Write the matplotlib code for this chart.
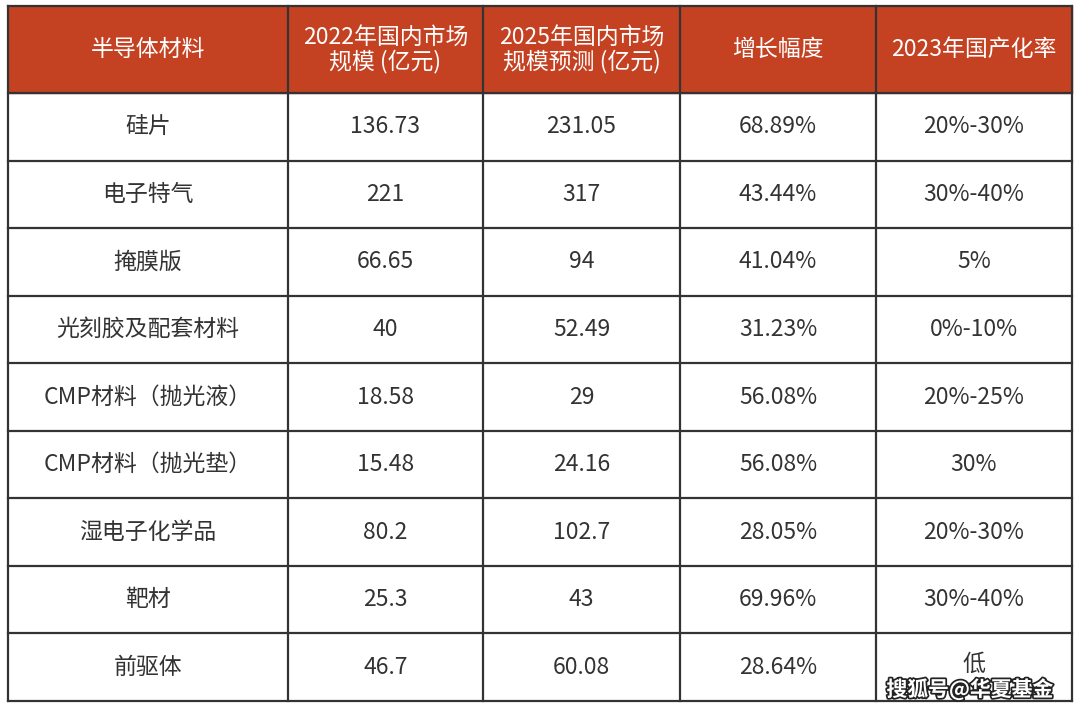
import matplotlib.pyplot as plt
import matplotlib.patheffects as pe

plt.rcParams['font.family'] = ['Noto Sans CJK SC', 'DejaVu Sans']

headers = ["半导体材料", "2022年国内市场\n规模 (亿元)", "2025年国内市场\n规模预测 (亿元)", "增长幅度", "2023年国产化率"]
materials = ["硅片", "电子特气", "掩膜版", "光刻胶及配套材料", "CMP材料（抛光液）",
             "CMP材料（抛光垫）", "湿电子化学品", "靶材", "前驱体"]
size_2022 = ["136.73", "221", "66.65", "40", "18.58", "15.48", "80.2", "25.3", "46.7"]
size_2025 = ["231.05", "317", "94", "52.49", "29", "24.16", "102.7", "43", "60.08"]
growth = ["68.89%", "43.44%", "41.04%", "31.23%", "56.08%", "56.08%", "28.05%", "69.96%", "28.64%"]
localization = ["20%-30%", "30%-40%", "5%", "0%-10%", "20%-25%", "30%", "20%-30%", "30%-40%", "低"]

W, H = 1080, 714
fig = plt.figure(figsize=(W / 100, H / 100), dpi=100)
ax = fig.add_axes([0, 0, 1, 1])
ax.set_xlim(0, W)
ax.set_ylim(H, 0)
ax.axis('off')

col_x = [8, 288, 483, 680, 876, 1072]
top, head_bot, bottom = 6, 93, 701
row_h = (bottom - head_bot) / len(materials)

ax.add_patch(plt.Rectangle((col_x[0], top), col_x[-1] - col_x[0], head_bot - top,
                           color='#C44122', zorder=0))
for j, h in enumerate(headers):
    ax.text((col_x[j] + col_x[j + 1]) / 2, (top + head_bot) / 2, h, color='white',
            fontsize=16.5, fontweight='medium', ha='center', va='center', linespacing=1.0)

columns = [materials, size_2022, size_2025, growth, localization]
for i in range(len(materials)):
    yc = head_bot + (i + 0.5) * row_h
    for j, col in enumerate(columns):
        y = yc
        if i == len(materials) - 1 and j == 4:
            y = yc - 3
        ax.text((col_x[j] + col_x[j + 1]) / 2, y, col[i], color='#333333',
                fontsize=16.5, ha='center', va='center')

lw = 1.6
for x in col_x:
    ax.plot([x, x], [top, bottom], color='#333333', lw=lw)
for k in range(len(materials) + 1):
    y = head_bot + k * row_h
    ax.plot([col_x[0], col_x[-1]], [y, y], color='#333333', lw=lw)
ax.plot([col_x[0], col_x[-1]], [top, top], color='#333333', lw=lw)

ax.text(970, 689, "搜狐号@华夏基金", color='white', fontsize=15, ha='center', va='center',
        fontweight='bold',
        path_effects=[pe.withStroke(linewidth=2.5, foreground='#222222')])

fig.savefig('out.png', dpi=100, facecolor='white')
